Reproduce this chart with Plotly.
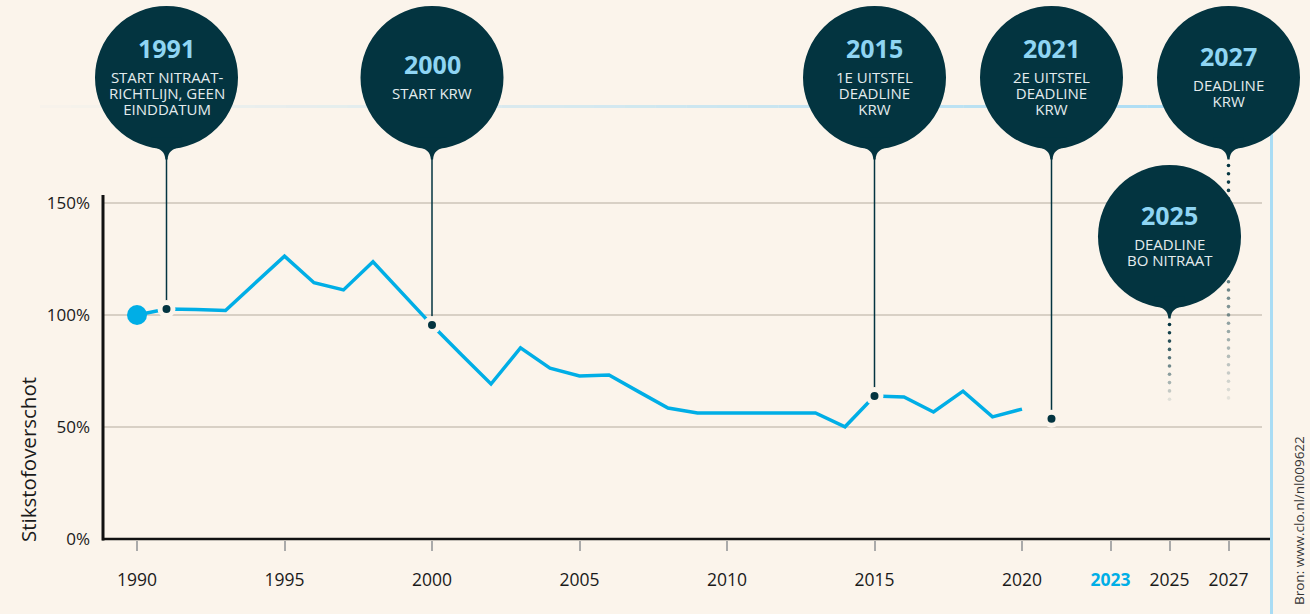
import plotly.graph_objects as go

# ---------------- data ----------------
years = list(range(1990, 2021))
surplus = [100.0, 102.7, 102.4, 102.0, 114.2, 126.3, 114.4, 111.2, 123.8, 109.6,
           95.5, 82.3, 69.2, 85.3, 76.3, 72.8, 73.2, 65.8, 58.5, 56.3,
           56.3, 56.3, 56.3, 56.3, 50.1, 63.8, 63.4, 56.7, 66.0, 54.5, 58.0]

milestone_years = [1991, 2000, 2015, 2021, 2025, 2027]
milestone_titles = ["1991", "2000", "2015", "2021", "2025", "2027"]
milestone_texts = [["START NITRAAT-", "RICHTLIJN, GEEN", "EINDDATUM"],
                   ["START KRW"],
                   ["1E UITSTEL", "DEADLINE", "KRW"],
                   ["2E UITSTEL", "DEADLINE", "KRW"],
                   ["DEADLINE", "BO NITRAAT"],
                   ["DEADLINE", "KRW"]]
milestone_solid = [True, True, True, True, False, False]

marker_years = [1991, 2000, 2015, 2021]
marker_values = [102.7, 95.5, 63.8, 53.7]

x_tickvals = [1990, 1995, 2000, 2005, 2010, 2015, 2020, 2023, 2025, 2027]
x_ticktext = ["1990", "1995", "2000", "2005", "2010", "2015", "2020",
              "<span style='color:#00aee6'><b>2023</b></span>", "2025", "2027"]
y_tickvals = [0, 50, 100, 150]
y_ticktext = ["0%", "50%", "100%", "150%"]

# ---------------- styling / geometry ----------------
W, H = 1310, 614
BG = "#fbf4eb"
DARK = "#033440"
LINE_BLUE = "#00aee6"
TITLE_BLUE = "#8fd5f3"
SUB_COL = "#e3ecee"
FONT = "Open Sans"

X_PX_1990 = 137.0
PX_PER_YEAR = 29.5
Y_PX_0 = 539.0
PX_PER_PCT = 2.24

x_range = [1990 - X_PX_1990 / PX_PER_YEAR, 1990 + (W - X_PX_1990) / PX_PER_YEAR]
y_range = [-(H - Y_PX_0) / PX_PER_PCT, Y_PX_0 / PX_PER_PCT]


def yval(py):  # pixel row -> data value
    return (Y_PX_0 - py) / PX_PER_PCT


def ppy(py):  # pixel row -> paper fraction
    return 1 - py / H


def ppx(px):
    return px / W


bubble_cy = [77.5, 77.5, 77.5, 77.5, 236.5, 77.5]
R = 71.5
TAIL = 82
LINE_GAP = 16.0
SUB_SIZE = 15

fig = go.Figure()

# connectors (solid)
cx, cy = [], []
for yr, v in zip(marker_years, marker_values):
    cx += [yr, yr, None]
    cy += [yval(77.5 + TAIL - 2), v, None]
fig.add_trace(go.Scatter(x=cx, y=cy, mode="lines",
                         line=dict(color=DARK, width=1.5), hoverinfo="skip"))

# fading dotted connectors for future deadlines
for yr, cyb, solid in zip(milestone_years, bubble_cy, milestone_solid):
    if solid:
        continue
    start = cyb + TAIL + 6
    end = 401.0
    pys = []
    p = start
    while p <= end:
        pys.append(p)
        p += 8.3
    cols = []
    for p in pys:
        t = (p - start) / (end - start)
        a = max(0.08, 1 - 0.92 * t ** 1.2)
        cols.append(f"rgba(3,52,64,{a:.3f})")
    fig.add_trace(go.Scatter(x=[yr] * len(pys), y=[yval(p) for p in pys], mode="markers",
                             marker=dict(size=3.6, color=cols, line=dict(width=0)),
                             hoverinfo="skip"))

# data line
fig.add_trace(go.Scatter(x=years, y=surplus, mode="lines",
                         line=dict(color=LINE_BLUE, width=3.5), hoverinfo="skip"))
# milestone dots
fig.add_trace(go.Scatter(x=marker_years, y=marker_values, mode="markers",
                         marker=dict(size=13, color=DARK, line=dict(color=BG, width=5)),
                         hoverinfo="skip"))
# start dot
fig.add_trace(go.Scatter(x=[years[0]], y=[surplus[0]], mode="markers",
                         marker=dict(size=20, color=LINE_BLUE, line=dict(width=0)),
                         hoverinfo="skip"))

shapes = []
# gridlines
for v in y_tickvals[1:]:
    shapes.append(dict(type="line", xref="paper", yref="y", x0=ppx(103), x1=ppx(1262),
                       y0=v, y1=v, line=dict(color="#cdc4b8", width=1.5), layer="below"))
# axis lines
shapes.append(dict(type="line", xref="paper", yref="y", x0=ppx(103), x1=ppx(103),
                   y0=yval(540.5), y1=yval(195), line=dict(color="#111", width=3)))
shapes.append(dict(type="line", xref="paper", yref="y", x0=ppx(102), x1=ppx(1270),
                   y0=0, y1=0, line=dict(color="#111", width=2.5)))
# light blue frame lines
shapes.append(dict(type="line", xref="paper", yref="paper", x0=ppx(1271.5), x1=ppx(1271.5),
                   y0=ppy(106), y1=ppy(H), line=dict(color="#a9dcf4", width=3), layer="below"))
nseg = 40
x_start, x_end = 40.0, 1271.0
for i in range(nseg):
    a0 = x_start + (x_end - x_start) * i / nseg
    a1 = x_start + (x_end - x_start) * (i + 1) / nseg
    t = (i + 0.5) / nseg
    alpha = min(1.0, 0.03 + 1.0 * t)
    shapes.append(dict(type="line", xref="paper", yref="paper", x0=ppx(a0), x1=ppx(a1),
                       y0=ppy(106.5), y1=ppy(106.5),
                       line=dict(color=f"rgba(169,220,244,{alpha:.3f})", width=3), layer="below"))

# bubbles
for yr, cyb in zip(milestone_years, bubble_cy):
    common = dict(xref="x", xsizemode="pixel", xanchor=yr,
                  yref="paper", ysizemode="pixel", yanchor=ppy(cyb),
                  fillcolor=DARK, line=dict(width=0), layer="above")
    shapes.append(dict(type="circle", x0=-R, x1=R, y0=-R, y1=R, **common))
    shapes.append(dict(type="path",
                       path=f"M -15,-69 C -5,-71 -1.6,-75 -1.1,-{TAIL} L 1.1,-{TAIL} "
                            f"C 1.6,-75 5,-71 15,-69 L 15,-60 L -15,-60 Z",
                       **common))

annotations = []
for yr, cyb, title, lines in zip(milestone_years, bubble_cy, milestone_titles, milestone_texts):
    n = len(lines)
    span = 29.5 + LINE_GAP * (n - 1)
    ty = cyb + 1 - span / 2
    annotations.append(dict(xref="x", yref="paper", x=yr, y=ppy(ty), text=f"<b>{title}</b>",
                            showarrow=False, xanchor="center", yanchor="middle",
                            font=dict(family=FONT, size=25, color=TITLE_BLUE)))
    # one text block; base font size sets the line pitch, span sets the glyph size
    body = "<br>".join(f"<span style='font-size:{SUB_SIZE}px'>{ln}</span>" for ln in lines)
    block_mid = ty + 29.5 + LINE_GAP * (n - 1) / 2
    annotations.append(dict(xref="x", yref="paper", x=yr, y=ppy(block_mid), text=body,
                            showarrow=False, xanchor="center", yanchor="middle",
                            font=dict(family=FONT, size=LINE_GAP / 1.3, color=SUB_COL)))

annotations.append(dict(xref="paper", yref="paper", x=ppx(28), y=ppy(460),
                        text="Stikstofoverschot", textangle=-90, showarrow=False,
                        xanchor="center", yanchor="middle",
                        font=dict(family=FONT, size=20.5, color="#1a1a1a")))
annotations.append(dict(xref="paper", yref="paper", x=ppx(1299), y=ppy(521),
                        text="Bron: www.clo.nl/nl009622", textangle=-90, showarrow=False,
                        xanchor="center", yanchor="middle",
                        font=dict(family=FONT, size=13.5, color="#333")))

fig.update_layout(
    width=W, height=H,
    margin=dict(l=0, r=0, t=0, b=0),
    paper_bgcolor=BG, plot_bgcolor=BG,
    showlegend=False,
    shapes=shapes,
    annotations=annotations,
    xaxis=dict(range=x_range, domain=[0, 1], anchor="free", position=ppy(Y_PX_0 + 1),
               tickmode="array", tickvals=x_tickvals, ticktext=x_ticktext,
               ticks="outside", ticklen=10, tickwidth=1.5, tickcolor="#aaa",
               showline=False, showgrid=False, zeroline=False,
               ticklabelstandoff=14,
               tickfont=dict(family=FONT, size=17.5, color="#1a1a1a"), fixedrange=True),
    yaxis=dict(range=y_range, domain=[0, 1], anchor="free", position=ppx(103),
               tickmode="array", tickvals=y_tickvals, ticktext=y_ticktext,
               ticks="", showline=False, showgrid=False, zeroline=False,
               ticklabelstandoff=13,
               tickfont=dict(family=FONT, size=17, color="#1a1a1a"), fixedrange=True),
)

fig.write_html("out.html", config={"displayModeBar": False},
               post_script="document.body.style.margin='0';document.body.style.padding='0';"
                           "document.body.style.background='" + BG + "';")
